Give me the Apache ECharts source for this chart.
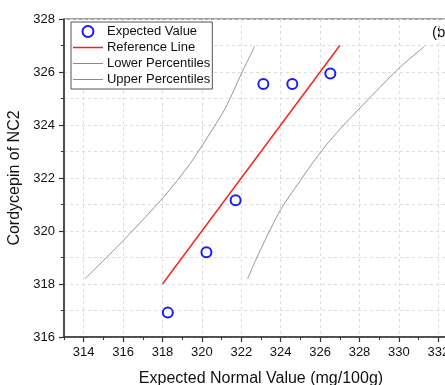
<!DOCTYPE html>
<html>
<head>
<meta charset="utf-8">
<script src="https://cdn.jsdelivr.net/npm/echarts@6/dist/echarts.min.js"></script>
<style>html,body{margin:0;padding:0;background:#fff}#c{width:445px;height:385px}</style>
</head>
<body>
<div id="c"></div>
<script>
var expectedX = [318.27, 320.23, 321.71, 323.12, 324.59, 326.52];
var expectedY = [316.92, 319.2, 321.16, 325.55, 325.55, 325.94];
var refX = [318, 327];
var refY = [318, 327];
var upperX = [314.07, 316.02, 318.05, 319.4, 320.25, 321.2, 321.95, 322.68];
var upperY = [318.2, 319.65, 321.28, 322.54, 323.5, 324.65, 325.85, 326.97];
var lowerX = [322.32, 322.96, 323.98, 325.0, 326.1, 327.03, 328.72, 330.08, 331.3];
var lowerY = [318.2, 319.27, 320.78, 321.91, 323.05, 323.86, 325.18, 326.19, 326.97];
var xMajor = [314, 316, 318, 320, 322, 324, 326, 328, 330, 332];
var xMinor = [313, 315, 317, 319, 321, 323, 325, 327, 329, 331, 333];

function pairs(a, b) { return a.map(function (v, i) { return [v, b[i]]; }); }

var chart = echarts.init(document.getElementById('c'), null, {renderer: 'canvas'});
var font = 'Liberation Sans, Arial, sans-serif';
var gridLine = {show: true, lineStyle: {color: '#dcdcdc', type: [3, 3], width: 1}};
var redIcon = 'path://M0,0h0.01v0.01h-0.01z M0,4.8h30v1.5h-30z M0,11h0.01v0.01h-0.01z';
var grayIcon = 'path://M0,0h0.01v0.01h-0.01z M0,5h30v1h-30z M0,11h0.01v0.01h-0.01z';
chart.setOption({
  animation: false,
  textStyle: {fontFamily: font},
  grid: {left: 64, top: 19, height: 318, width: 394, outerBoundsMode: 'none', containLabel: false,
         show: true, borderColor: '#444', borderWidth: 1},
  legend: {
    orient: 'vertical', left: 71, top: 22,
    padding: [3, 2, 3, 2], itemGap: 3, itemWidth: 30, itemHeight: 11,
    backgroundColor: '#fff', borderColor: '#555', borderWidth: 1,
    textStyle: {fontSize: 13, color: '#111', fontFamily: font, lineHeight: 13, padding: [0, 0, 0, -1]},
    data: [
      {name: 'Expected Value'},
      {name: 'Reference Line', icon: redIcon},
      {name: 'Lower Percentiles', icon: grayIcon},
      {name: 'Upper Percentiles', icon: grayIcon}
    ]
  },
  graphic: [{type: 'text', left: 432, top: 25, style: {text: '(b)', font: '15px ' + font, fill: '#111'}}],
  xAxis: [{
    type: 'value', min: 313, max: 333, interval: 1,
    name: 'Expected Normal Value (mg/100g)', nameLocation: 'middle', nameGap: 34,
    nameTextStyle: {fontSize: 16, color: '#111', fontFamily: font},
    axisLine: {lineStyle: {color: '#333', width: 1.5}},
    axisTick: {show: true, length: 5, customValues: xMajor, lineStyle: {color: '#333', width: 1.2}},
    axisLabel: {fontSize: 13, color: '#111', margin: 9, customValues: xMajor, fontFamily: font},
    splitLine: gridLine
  }, {
    type: 'value', min: 313, max: 333, interval: 1, position: 'bottom',
    axisLine: {show: false},
    axisTick: {show: true, length: 3, customValues: xMinor, lineStyle: {color: '#333', width: 1}},
    axisLabel: {show: false}, splitLine: {show: false}
  }],
  yAxis: {
    type: 'value', min: 316, max: 328, interval: 2,
    name: 'Cordycepin of NC2', nameLocation: 'middle', nameGap: 35,
    nameTextStyle: {fontSize: 16, color: '#111', fontFamily: font},
    axisLine: {show: true, lineStyle: {color: '#333', width: 1.5}},
    axisTick: {show: true, length: 5, lineStyle: {color: '#333', width: 1.2}},
    minorTick: {show: true, splitNumber: 2, length: 3, lineStyle: {color: '#333', width: 1}},
    axisLabel: {fontSize: 13, color: '#111', margin: 9, fontFamily: font},
    splitLine: gridLine,
    minorSplitLine: gridLine
  },
  series: [{
    name: 'Expected Value', type: 'scatter', data: pairs(expectedX, expectedY),
    symbol: 'emptyCircle', symbolSize: 10,
    itemStyle: {color: '#1a1aff', borderColor: '#1a1aff', borderWidth: 1.8, opacity: 1}, z: 5
  }, {
    name: 'Reference Line', type: 'line', data: pairs(refX, refY), showSymbol: false, symbol: 'none',
    lineStyle: {color: '#ff1a1a', width: 1.4}, itemStyle: {color: '#ff1a1a'}, z: 4
  }, {
    name: 'Lower Percentiles', type: 'line', data: pairs(lowerX, lowerY), showSymbol: false, symbol: 'none',
    smooth: 0.3,
    lineStyle: {color: '#8a8a8a', width: 0.9}, itemStyle: {color: '#8a8a8a'}
  }, {
    name: 'Upper Percentiles', type: 'line', data: pairs(upperX, upperY), showSymbol: false, symbol: 'none',
    smooth: 0.3,
    lineStyle: {color: '#8a8a8a', width: 0.9}, itemStyle: {color: '#8a8a8a'}
  }]
});
</script>
</body>
</html>
